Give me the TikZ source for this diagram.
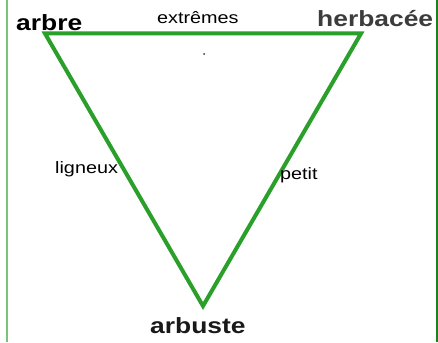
\documentclass[tikz,border=0pt]{standalone}
\usepackage{fontspec}
\setmainfont{Liberation Sans}[FakeStretch=1.2]
\definecolor{trigreen}{RGB}{42,160,42}
\definecolor{lightframe}{RGB}{120,196,120}
\definecolor{darkframe}{RGB}{30,128,30}
\definecolor{darkgraytext}{RGB}{60,60,60}
\begin{document}
\begin{tikzpicture}[x=1pt,y=-1pt,
  boldlbl/.style={inner sep=0pt,font=\fontsize{22}{22}\selectfont\bfseries,anchor=base west},
  normlbl/.style={inner sep=0pt,font=\fontsize{16.5}{16.5}\selectfont,anchor=base west},
  tri/.style={draw=trigreen,line width=4pt,line join=miter}]
\fill[white] (0,0) rectangle (438,342);
\useasboundingbox (0,0) rectangle (438,342);
\draw[lightframe,line width=2pt] (6.5,0) -- (6.5,342);
\draw[darkframe,line width=2pt] (437,0) -- (437,342);
\coordinate (A) at (45,33.5);
\coordinate (B) at (361,33.5);
\coordinate (C) at (203,306);
\draw[tri] (A) -- (B) -- (C) -- cycle;
\fill[black!80] (204,54) circle (1pt);
\node[boldlbl,text=black] (arbre) at (16,31) {arbre};
\node[boldlbl,text=darkgraytext] (herb) at (317,27) {herbacée};
\node[normlbl] (ext) at (157,24) {extrêmes};
\node[normlbl] (lig) at (55,173) {ligneux};
\node[normlbl] (pet) at (280,179) {petit};
\node[boldlbl,text=black!90] (arb) at (150,333) {arbuste};
\end{tikzpicture}
\end{document}
